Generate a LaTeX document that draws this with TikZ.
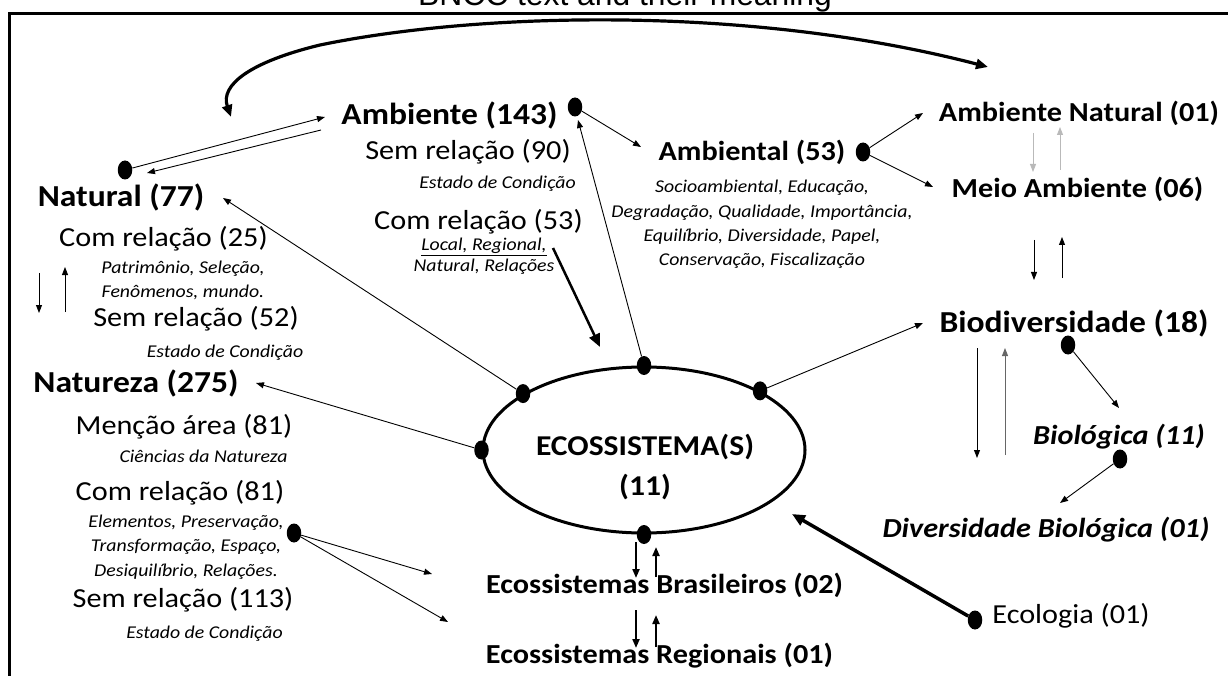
\documentclass[tikz,border=0pt]{standalone}
\usepackage{fontspec}
\setmainfont{Carlito}[FakeStretch=1.1]
\newfontfamily\titlefont{Liberation Sans}
\usetikzlibrary{arrows.meta,shapes.geometric}

\begin{document}
\begin{tikzpicture}[x=1pt,y=-1pt,
  blob/.style={ellipse, fill=black, inner sep=0pt, minimum width=14.5pt, minimum height=19pt},
  headL/.style={inner sep=0pt, font=\fontsize{30.5}{36}\selectfont\bfseries},
  headM/.style={inner sep=0pt, font=\fontsize{27.5}{33}\selectfont\bfseries},
  headI/.style={inner sep=0pt, font=\fontsize{27.5}{33}\selectfont\bfseries\itshape},
  body/.style={inner sep=0pt, font=\fontsize{27.5}{33}\selectfont},
  note/.style={inner sep=0pt, align=center, font=\fontsize{18}{24.4}\selectfont\itshape},
  link/.style={line width=0.9pt, -{Triangle[length=8pt,width=6pt]}},
  pair/.style={line width=2pt, -{Triangle[length=9pt,width=7pt]}},
  heavy/.style={line width=3pt, -{Triangle[length=13pt,width=11pt]}}]

\useasboundingbox (0,0) rectangle (1228,676);
\draw[line width=2.5pt] (9.5,13.5) rectangle (1245,700);
\node[anchor=base, inner sep=0pt, font=\titlefont\fontsize{31.8}{36}\selectfont] (title) at (625,5.5) {BNCC text and their meaning};

% left column
\node[headL] (nat) at (121,197) {Natural (77)};
\node[blob] (nat-dot) at (125,170) {};
\node[body] (nat-com) at (163.5,239) {Com relação (25)};
\node[note] (nat-ex) at (183,280.5) {Patrimônio, Seleção,\\Fenômenos, mundo.};
\node[body] (nat-sem) at (196,319) {Sem relação (52)};
\node[note] (nat-est) at (225,353) {Estado de Condição};
\node[headL] (ntz) at (136,383) {Natureza (275)};
\node[body] (ntz-men) at (184,427) {Menção área (81)};
\node[note] (ntz-cie) at (203.5,456) {Ciências da Natureza};
\node[body] (ntz-com) at (180,493) {Com relação (81)};
\node[note] (ntz-ex) at (186,547) {Elementos, Preservação,\\Transformação, Espaço,\\Desiquilíbrio, Relações.};
\node[blob] (ntz-dot) at (294,533) {};
\node[body] (ntz-sem) at (183,600) {Sem relação (113)};
\node[note] (ntz-est) at (204.5,634) {Estado de Condição};

% middle top
\node[headL] (amb) at (449.5,115) {Ambiente (143)};
\node[blob] (amb-dot) at (575,107) {};
\node[body] (amb-sem) at (468,152) {Sem relação (90)};
\node[note] (amb-est) at (497.5,184) {Estado de Condição};
\node[body] (amb-com) at (478.5,222) {Com relação (53)};
\node[note, font=\fontsize{18}{21}\selectfont\itshape] (amb-ex) at (484,256.5) {\underline{Local, Regional,}\\Natural, Relações};
\node[headM] (ambl) at (752,152) {Ambiental (53)};
\node[blob] (ambl-dot) at (863,152) {};
\node[note] (ambl-ex) at (762,224.5) {Socioambiental, Educação,\\Degradação, Qualidade, Importância,\\Equilíbrio, Diversidade, Papel,\\Conservação, Fiscalização};

% right column
\node[headM] (an) at (1079,113) {Ambiente Natural (01)};
\node[headM] (ma) at (1077.5,189) {Meio Ambiente (06)};
\node[headL] (bio) at (1074,323) {Biodiversidade (18)};
\node[blob] (bio-dot) at (1068,345) {};
\node[headI] (biol) at (1119,437) {Biológica (11)};
\node[blob] (biol-dot) at (1120,459) {};
\node[headI] (divb) at (1046,530) {Diversidade Biológica (01)};
\node[body] (eco) at (1071,616) {Ecologia (01)};
\node[blob] (eco-dot) at (975,620) {};

% centre
\node[draw, ellipse, line width=3pt, minimum width=322pt, minimum height=166pt] (ecos) at (644,450) {};
\node[inner sep=0pt, align=center, font=\fontsize{28.7}{40}\selectfont\bfseries] (ecos-txt) at (645,467) {ECOSSISTEMA(S)\\(11)};
\node[blob] (e-n) at (ecos.north) {};
\node[blob] (e-nw) at (ecos.155) {};
\node[blob] (e-w) at (ecos.west) {};
\node[blob] (e-ne) at (ecos.27) {};
\node[blob] (e-s) at (ecos.south) {};
\node[headM] (ebr) at (664.5,585) {Ecossistemas Brasileiros (02)};
\node[headM] (ere) at (659.5,656) {Ecossistemas Regionais (01)};

% free ends
\coordinate (amb-in) at (325,117);
\coordinate (amb-out) at (321,130);
\coordinate (nat-in) at (147,173);
\coordinate (nat-tip) at (223,198);
\coordinate (ntz-tip) at (256,383);
\coordinate (amb-tip) at (578,120);
\coordinate (ambl-tip) at (641,147);
\coordinate (an-tip) at (923,113);
\coordinate (ma-tip) at (933,187);
\coordinate (bio-tip) at (923,323);
\coordinate (biol-tip) at (1119,408);
\coordinate (divb-tip) at (1060,503);
\coordinate (eco-tip) at (792,514);
\coordinate (rel-from) at (553,248);
\coordinate (rel-tip) at (600,347);
\coordinate (ntz-a) at (432,574);
\coordinate (ntz-b) at (448,622);
\coordinate (loop-l) at (231,117);
\coordinate (loop-r) at (988,67);

% connectors
\draw[line width=3.2pt, {Triangle[length=12pt,width=10pt]}-{Triangle[length=12pt,width=10pt]}]
  (loop-l) .. controls (220,85) and (250,62) .. (320,45) .. controls (480,12) and (750,5) .. (loop-r);
\draw[link] (nat-dot) -- (amb-in);
\draw[link] (amb-out) -- (nat-in);
\draw[link] (e-nw) -- (nat-tip);
\draw[link] (e-w) -- (ntz-tip);
\draw[link] (e-n) -- (amb-tip);
\draw[link] (amb-dot) -- (ambl-tip);
\draw[link] (ambl-dot) -- (an-tip);
\draw[link] (ambl-dot) -- (ma-tip);
\draw[link] (e-ne) -- (bio-tip);
\draw[link] (bio-dot) -- (biol-tip);
\draw[link] (biol-dot) -- (divb-tip);
\draw[link] (ntz-dot) -- (ntz-a);
\draw[link] (ntz-dot) -- (ntz-b);
\draw[heavy, line width=2.5pt] (rel-from) -- (rel-tip);
\draw[heavy, line width=3.5pt] (eco-dot) -- (eco-tip);

% up and down pairs
\draw[link, gray!55] (1033,133) -- (1033,172);
\draw[link, gray!55] (1060,170) -- (1060,127);
\draw[link] (1034,240) -- (1034,280);
\draw[link] (1062,278) -- (1062,237);
\draw[link] (977,348) -- (977,458);
\draw[link, black!60] (1005,455) -- (1005,348);
\draw[link] (39,273) -- (39,313);
\draw[link] (65,312) -- (65,267);
\draw[pair] (636,542) -- (636,578);
\draw[pair] (656,577) -- (656,547);
\draw[pair] (636,610) -- (636,648);
\draw[pair] (656,647) -- (656,615);
\end{tikzpicture}
\end{document}
